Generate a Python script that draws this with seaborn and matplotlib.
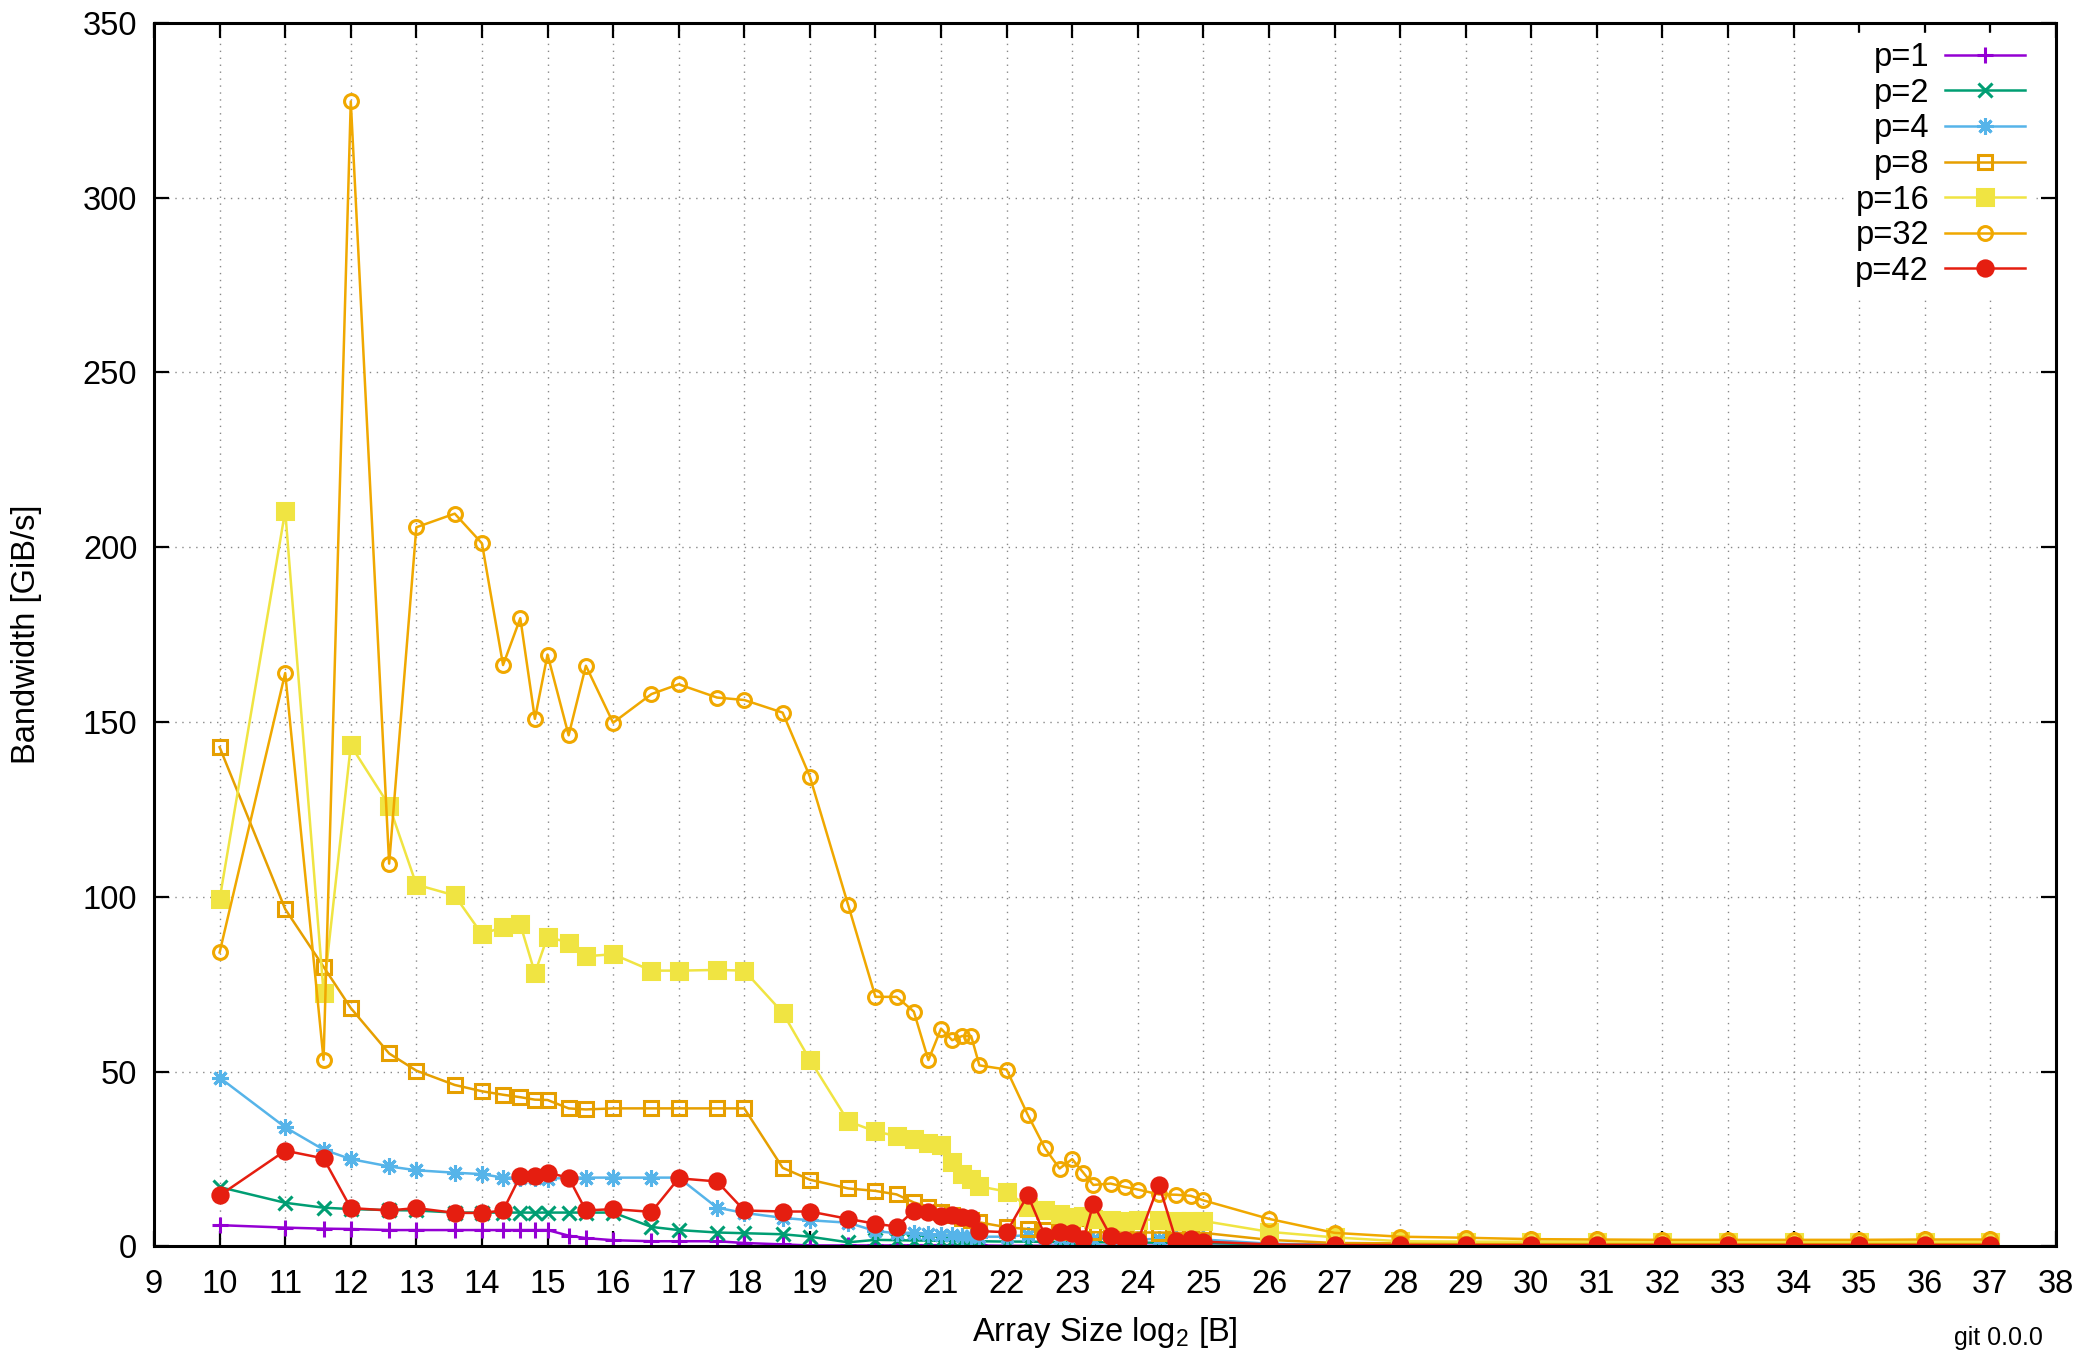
import numpy as np
import pandas as pd
import matplotlib
matplotlib.use('Agg')
import matplotlib.pyplot as plt
import seaborn as sb

# array sizes in KiB (x axis is log2 of size in bytes)
sizes_kib = [1, 2, 3, 4, 6, 8, 12, 16, 20, 24, 28, 32, 40, 48, 64, 96, 128, 192, 256, 384, 512, 768,
             1024, 1280, 1536, 1792, 2048, 2304, 2560, 2816, 3072,
             4096, 5120, 6144, 7168, 8192, 9216, 10240, 12288, 14336, 16384, 20480, 24576, 28672, 32768,
             2**16, 2**17, 2**18, 2**19, 2**20, 2**21, 2**22, 2**23, 2**24, 2**25, 2**26, 2**27]

p1 = [6.1, 5.4, 5.1, 5.0, 4.7, 4.7, 4.7, 4.7, 4.7, 4.7, 4.7, 4.7, 3.1, 2.4, 1.8, 1.5, 1.5, 1.5, 1.0, 0.6, 0.3, 0.3,
      0.3, 0.3, 0.3, 0.3, 0.3, 0.3, 0.3, 0.3, 0.3,
      0.2, 0.2, 0.2, 0.2, 0.2, 0.2, 0.2, 0.2, 0.2, 0.2, 0.2, 0.2, 0.2, 0.2,
      0.2, 0.2, 0.2, 0.2, 0.2, 0.2, 0.2, 0.2, 0.2, 0.2, 0.2, 0.2]
p2 = [17.0, 12.5, 11.1, 10.7, 10.4, 10.3, 9.7, 9.7, 9.7, 9.7, 9.7, 9.7, 9.7, 9.7, 9.7, 5.6, 4.7, 4.0, 3.8, 3.5, 2.8, 1.2,
      1.9, 1.8, 1.7, 1.7, 1.6, 1.6, 1.6, 1.5, 1.5,
      1.4, 1.4, 1.3, 1.3, 1.3, 1.2, 1.2, 1.2, 1.1, 1.1, 1.1, 1.0, 1.0, 1.0,
      0.6, 0.4, 0.4, 0.4, 0.4, 0.4, 0.4, 0.4, 0.4, 0.4, 0.4, 0.4]
p4 = [48.3, 34.1, 27.7, 25.0, 22.9, 21.8, 21.1, 20.7, 19.7, 19.7, 19.7, 19.3, 19.7, 19.7, 19.7, 19.7, 19.7, 11.1, 9.6, 8.2, 7.5, 6.8,
      4.4, 3.8, 4.0, 3.6, 3.3, 3.2, 3.0, 2.9, 2.8,
      2.8, 3.3, 2.4, 2.3, 2.3, 2.2, 2.2, 2.2, 2.1, 2.1, 2.1, 2.1, 2.0, 2.0,
      0.8, 0.5, 0.5, 0.5, 0.5, 0.5, 0.5, 0.5, 0.5, 0.5, 0.5, 0.5]
p8 = [142.8, 96.5, 80.0, 68.2, 55.2, 50.3, 46.2, 44.4, 43.4, 42.7, 42.0, 41.9, 39.5, 39.2, 39.5, 39.5, 39.5, 39.5, 39.5, 22.5, 19.1, 16.6,
      15.9, 14.9, 12.6, 11.4, 10.0, 9.0, 8.2, 7.6, 6.9,
      5.5, 5.0, 4.7, 4.3, 4.2, 4.1, 4.1, 4.0, 4.0, 4.0, 4.0, 3.9, 3.9, 3.9,
      1.9, 1.0, 0.9, 0.9, 0.9, 0.9, 0.9, 0.9, 0.9, 0.9, 0.9, 0.9]
p16 = [99.3, 210.4, 72.6, 143.3, 126.1, 103.5, 100.4, 89.3, 91.4, 92.1, 78.2, 88.6, 86.9, 83.0, 83.6, 78.9, 78.9, 79.1, 78.9, 66.9, 53.4, 35.8,
       32.9, 31.6, 30.7, 29.5, 28.9, 24.1, 20.8, 19.3, 17.2,
       15.7, 11.4, 10.5, 9.4, 8.4, 8.8, 7.8, 7.6, 7.2, 7.6, 7.7, 7.3, 7.3, 7.3,
       4.2, 2.6, 1.5, 1.4, 1.4, 1.4, 1.4, 1.4, 1.4, 1.4, 1.4, 1.4]
p32 = [84.1, 164.0, 53.4, 327.5, 109.5, 205.7, 209.6, 201.1, 166.3, 179.7, 150.9, 169.3, 146.2, 166.1, 149.8, 158.0, 160.8, 157.0, 156.3, 152.7, 134.4, 97.6,
       71.4, 71.4, 67.2, 53.3, 62.3, 59.0, 60.2, 60.2, 51.8,
       50.6, 37.7, 28.1, 22.3, 25.0, 21.1, 17.6, 18.0, 17.0, 16.3, 14.9, 14.8, 14.5, 13.2,
       7.9, 3.9, 2.8, 2.5, 2.1, 2.0, 1.9, 1.9, 1.9, 1.9, 2.0, 2.0]
p42 = [14.6, 27.4, 25.2, 11.0, 10.3, 11.0, 9.6, 9.6, 10.3, 20.2, 20.3, 21.1, 19.7, 10.3, 10.7, 9.9, 19.5, 18.6, 10.3, 10.0, 10.0, 7.9,
       6.5, 5.7, 10.2, 9.8, 8.8, 9.0, 8.5, 8.1, 4.4,
       4.1, 14.7, 3.1, 4.2, 3.8, 2.1, 12.1, 3.0, 1.9, 1.6, 17.7, 1.6, 2.1, 1.4,
       0.6, 0.4, 0.4, 0.4, 0.4, 0.4, 0.4, 0.4, 0.4, 0.4, 0.4, 0.4]

labels = ['p=1', 'p=2', 'p=4', 'p=8', 'p=16', 'p=32', 'p=42']
series = [p1, p2, p4, p8, p16, p32, p42]
colors = ['#9400d3', '#009e73', '#56b4e9', '#e69f00', '#f0e442', '#f0a800', '#e51e10']
markers = ['+', 'x', (8, 2, 0), 's', 's', 'o', 'o']
filled = [True, True, True, False, True, False, True]
msizes = [12, 10, 12, 10, 11, 10, 11]

x = np.log2(np.array(sizes_kib) * 1024.0)

plt.rcParams['font.family'] = ['Liberation Sans', 'DejaVu Sans']
plt.rcParams['mathtext.fontset'] = 'custom'
plt.rcParams['mathtext.rm'] = 'Liberation Sans'

fs = 23.5
fig = plt.figure(figsize=(20.9, 13.54), dpi=100)
ax = fig.add_axes([0.0737, 0.0794, 0.9100, 0.9038])

for lab, vals, col, mk, fl, ms in zip(labels, series, colors, markers, filled, msizes):
    df = pd.DataFrame({'x': x, 'y': vals})
    kw = dict(markerfacecolor=col if fl else 'none', markeredgecolor=col, markeredgewidth=2.2)
    sb.lineplot(data=df, x='x', y='y', ax=ax, color=col, marker=mk, markersize=ms,
                linewidth=1.8, label=lab, sort=False, **kw)

ax.set_xlim(9, 38)
ax.set_ylim(0, 350)
ax.set_xticks(range(9, 39))
ax.set_yticks(range(0, 351, 50))
ax.grid(True, linestyle=(0, (1, 4)), color='#888888', linewidth=1.0)
ax.set_axisbelow(True)
ax.tick_params(direction='in', length=11, width=1.6, labelsize=fs,
               top=True, right=True, color='black')
ax.tick_params(axis='x', pad=16)
ax.tick_params(axis='y', pad=12)
for s in ax.spines.values():
    s.set_linewidth(2.2)

ax.set_xlabel('Array Size log$_2$ [B]', fontsize=fs)
ax.set_ylabel('Bandwidth [GiB/s]', fontsize=fs)
ax.xaxis.set_label_coords(0.5, -0.056)
ax.yaxis.set_label_coords(-0.059, 0.5)

leg = ax.legend(loc='upper right', bbox_to_anchor=(0.9942, 1.0), markerfirst=False, fontsize=fs,
                frameon=True, edgecolor='white', facecolor='white', framealpha=1.0, fancybox=False,
                handlelength=2.45, labelspacing=0.14, borderaxespad=0.3, borderpad=0.3,
                handletextpad=0.5)
for t in leg.get_texts():
    t.set_ha('right')

fig.text(0.935, 0.003, 'git 0.0.0', fontsize=18, ha='left', va='bottom')

fig.savefig('out.png', dpi=100)
